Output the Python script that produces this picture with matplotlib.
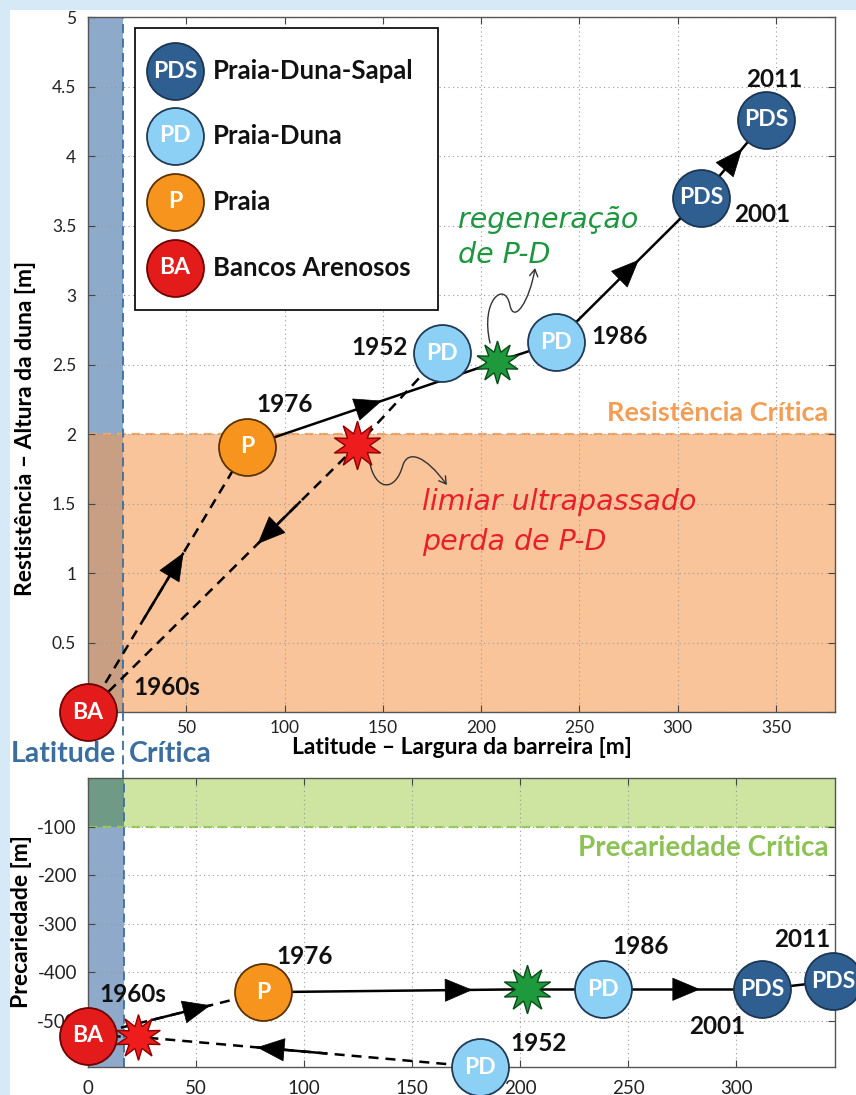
import matplotlib
matplotlib.use('Agg')
import matplotlib.pyplot as plt
import numpy as np
from matplotlib.patches import Rectangle, FancyArrowPatch
from matplotlib.path import Path
from matplotlib.lines import Line2D

plt.rcParams['font.family'] = ['Lato', 'DejaVu Sans']
plt.rcParams['axes.unicode_minus'] = False

# ---------------- data ----------------
states = ['BA', 'P', 'PD', 'PD', 'PDS', 'PDS']
years = ['1960s', '1976', '1952', '1986', '2001', '2011']
width_top = [0, 81, 180, 238, 312, 345]          # Latitude - largura da barreira [m]
resist = [0.0, 1.91, 2.58, 2.66, 3.70, 4.26]       # Resistencia - altura da duna [m]
width_bot = [0, 81, 181.5, 238.5, 312, 345]
precar = [-531, -441, -595, -435, -435, -418]      # Precariedade [m]
star_loss_top = (137, 1.92)
star_regen_top = (208, 2.52)
star_loss_bot = (23, -533)
star_regen_bot = (203, -435)
crit_resist = 2.0
crit_precar = -100
crit_lat_top = 18
crit_lat_bot = 16.5

legend_codes = ['PDS', 'PD', 'P', 'BA']
legend_names = ['Praia-Duna-Sapal', 'Praia-Duna', 'Praia', 'Bancos Arenosos']

xticks = [0, 50, 100, 150, 200, 250, 300, 350]
yticks_top = [0, 0.5, 1, 1.5, 2, 2.5, 3, 3.5, 4, 4.5, 5]
yticks_bot = [-500, -400, -300, -200, -100]

# ---------------- styles ----------------
face = {'PDS': '#2F5F90', 'PD': '#8DD0F5', 'P': '#F7941D', 'BA': '#E31B1B'}
edge = {'PDS': '#1B3552', 'PD': '#1E3A55', 'P': '#5A3200', 'BA': '#6E0000'}
year_off_top = [(57, 18), (27, 30), (-45, 4), (46, 4), (44, -12), (6, 29)]
year_off_bot = [(32, 30), (30, 26), (42, 17), (27, 31), (-32, -27), (-22, 30)]
hand = dict(family='DejaVu Sans', style='oblique')

fig = plt.figure(figsize=(8.56, 10.95), dpi=100, facecolor='#D5E9F7')
fig.add_artist(Rectangle((10 / 856, 0), 1, 1 - 10 / 1095, transform=fig.transFigure,
                         fc='white', ec='none', zorder=-10))

ax1 = fig.add_axes([0.1028, 0.34977, 0.8727, 0.6347])
ax2 = fig.add_axes([0.1028, 0.02557, 0.8727, 0.26393])


def style_axes(ax, lsize, xpad, ypad):
    ax.set_axisbelow(True)
    ax.grid(True, ls=(0, (1, 3)), color='#9a9a9a', lw=0.8)
    ax.tick_params(direction='in', top=True, right=True, length=5, width=0.8,
                   colors='#444', labelcolor='#222', labelsize=lsize)
    ax.tick_params(axis='x', pad=xpad)
    ax.tick_params(axis='y', pad=ypad)
    for s in ax.spines.values():
        s.set_color('#555')
        s.set_linewidth(1.0)


def draw_seg(ax, a, b, dashed, solid=None, arrow=None):
    a = np.asarray(a, float)
    b = np.asarray(b, float)
    ls = (0, (4, 2.8)) if dashed else '-'
    ax.plot([a[0], b[0]], [a[1], b[1]], color='k', lw=1.8, ls=ls, zorder=3,
            clip_on=False, solid_capstyle='butt')
    if solid is not None:
        p0 = a + (b - a) * solid[0]
        p1 = a + (b - a) * solid[1]
        ax.plot([p0[0], p1[0]], [p0[1], p1[1]], color='k', lw=1.8, zorder=3,
                clip_on=False, solid_capstyle='butt')
    if arrow is not None:
        tip = a + (b - a) * arrow
        tail = a + (b - a) * (arrow - 0.02)
        ax.annotate('', xy=tip, xytext=tail, zorder=4, annotation_clip=False,
                    arrowprops=dict(arrowstyle='-|>,head_length=0.95,head_width=0.4',
                                    mutation_scale=20, color='k', lw=0.5,
                                    shrinkA=0, shrinkB=0))


def draw_states(ax, xs, ys, offs):
    for i, code in enumerate(states):
        ax.plot(xs[i], ys[i], 'o', ms=41, mfc=face[code], mec=edge[code], mew=1.3,
                zorder=6, clip_on=False)
        ax.text(xs[i], ys[i], code, color='white', fontweight='bold', fontsize=16.5,
                ha='center', va='center', zorder=7, clip_on=False)
        ax.annotate(years[i], xy=(xs[i], ys[i]), xytext=offs[i], textcoords='offset points',
                    ha='center', va='center', fontsize=17.5, fontweight='bold',
                    color='#111', zorder=7, annotation_clip=False)


def draw_star(ax, pos, fc, ec, ms):
    ax.plot(pos[0], pos[1], marker=(10, 1, 0), ms=ms, mfc=fc, mec=ec, mew=1.0,
            zorder=5, clip_on=False)


# ================= upper panel =================
style_axes(ax1, 12.5, 5.5, 8.5)
ax1.set_xticks(xticks)
ax1.set_xticklabels(['' if v == 0 else f'{v:g}' for v in xticks])
ax1.set_yticks(yticks_top)
ax1.set_yticklabels(['' if v == 0 else f'{v:g}' for v in yticks_top])
ax1.set_xlim(0, 380)
ax1.set_ylim(0, 5)
ax1.axvspan(0, crit_lat_top, color='#8EAACB', lw=0, zorder=0.1)
ax1.axhspan(0, crit_resist, color='#FAC49B', lw=0, zorder=0.1)
ax1.add_patch(Rectangle((0, 0), crit_lat_top, crit_resist, color='#C89F82', lw=0, zorder=0.15))
ax1.axhline(crit_resist, color='#F2A869', ls=(0, (4, 2.5)), lw=1.6, zorder=0.3)
ax1.axvline(crit_lat_top, color='#3B6E9E', ls=(0, (5, 3)), lw=1.3, zorder=0.3)

P = list(zip(width_top, resist))
draw_seg(ax1, P[2], star_loss_top, True)
draw_seg(ax1, star_loss_top, P[0], True, solid=(0.21, 0.37), arrow=0.37)
draw_seg(ax1, P[0], P[1], True, solid=(0.35, 0.60), arrow=0.60)
draw_seg(ax1, P[1], star_regen_top, False, arrow=0.54)
draw_seg(ax1, star_regen_top, P[3], False)
draw_seg(ax1, P[3], P[4], False, arrow=0.57)
draw_seg(ax1, P[4], P[5], False, arrow=0.63)
draw_star(ax1, star_loss_top, '#EE1C1C', '#8B0000', 35)
draw_star(ax1, star_regen_top, '#1E9A3C', '#0B4A1A', 31)
draw_states(ax1, width_top, resist, year_off_top)

# curvy pointer arrows
red_path = Path([(143.4, 1.79), (146.0, 1.60), (156.2, 1.57), (160.2, 1.777),
                 (162.8, 1.885), (171.4, 1.849), (182.6, 1.633)],
                [Path.MOVETO, Path.CURVE4, Path.CURVE4, Path.CURVE4,
                 Path.CURVE4, Path.CURVE4, Path.CURVE4])
ax1.add_patch(FancyArrowPatch(path=red_path, arrowstyle='->,head_length=5,head_width=3',
                              color='#333', lw=1.0, zorder=4))
green_path = Path([(204.5, 2.655), (199.4, 2.964), (212.1, 3.108), (214.6, 2.928),
                   (216.7, 2.784), (224.8, 2.964), (227.4, 3.194)],
                  [Path.MOVETO, Path.CURVE4, Path.CURVE4, Path.CURVE4,
                   Path.CURVE4, Path.CURVE4, Path.CURVE4])
ax1.add_patch(FancyArrowPatch(path=green_path, arrowstyle='->,head_length=5,head_width=3',
                              color='#333', lw=1.0, zorder=4))

ax1.text(188.2, 3.54, 'regeneração', color='#1E9640', fontsize=20.5, ha='left', va='center', zorder=7, **hand)
ax1.text(188.2, 3.29, 'de P-D', color='#1E9640', fontsize=20.5, ha='left', va='center', zorder=7, **hand)
ax1.text(170, 1.51, 'limiar ultrapassado', color='#E8202A', fontsize=20.5, ha='left', va='center', zorder=7, **hand)
ax1.text(170, 1.22, 'perda de P-D', color='#E8202A', fontsize=20.5, ha='left', va='center', zorder=7, **hand)

ax1.text(0.9906, 2.15, 'Resistência Crítica', transform=ax1.get_yaxis_transform(),
         color='#F29E55', fontsize=19.5, fontweight='bold', ha='right', va='center', zorder=2)

ax1.set_xlabel('Latitude – Largura da barreira [m]', fontsize=16.5, fontweight='bold', va='center')
ax1.xaxis.set_label_coords(0.5, -0.0504)
ax1.set_ylabel('Restistência – Altura da duna [m]', fontsize=16.5, fontweight='bold', va='center')
ax1.yaxis.set_label_coords(-0.0843, 0.4086)

# legend (drawn by hand)
ax1.add_patch(Rectangle((0.063, 0.578), 0.4055, 0.406, transform=ax1.transAxes,
                        fc='white', ec='#111', lw=1.3, zorder=20))
leg_y = [0.922, 0.829, 0.734, 0.639]
for code, name, yy in zip(legend_codes, legend_names, leg_y):
    ax1.plot(0.1165, yy, 'o', ms=41, mfc=face[code], mec=edge[code], mew=1.3,
             transform=ax1.transAxes, zorder=21, clip_on=False)
    ax1.text(0.1165, yy, code, transform=ax1.transAxes, color='white', fontweight='bold',
             fontsize=16.5, ha='center', va='center', zorder=22)
    ax1.text(0.167, yy, name, transform=ax1.transAxes, color='#111', fontweight='bold',
             fontsize=18.5, ha='left', va='center', zorder=22)

# ================= lower panel =================
style_axes(ax2, 13.5, 9, 8)
ax2.set_xticks(xticks)
ax2.set_yticks(yticks_bot)
ax2.set_xlim(0, 345.8)
ax2.set_ylim(-595, 0)
ax2.axvspan(0, crit_lat_bot, color='#8FA9CB', lw=0, zorder=0.1)
ax2.axhspan(crit_precar, 0, color='#CDE5A0', lw=0, zorder=0.1)
ax2.add_patch(Rectangle((0, crit_precar), crit_lat_bot, -crit_precar, color='#6F9A86', lw=0, zorder=0.15))
ax2.axhline(crit_precar, color='#9CCB5E', ls=(0, (4, 2.5)), lw=1.6, zorder=0.3)
ax2.axvline(crit_lat_bot, color='#3B6E9E', ls=(0, (5, 3)), lw=1.3, zorder=0.3)

Q = list(zip(width_bot, precar))
draw_seg(ax2, Q[2], star_loss_bot, True, solid=(0.447, 0.652), arrow=0.652)
draw_seg(ax2, star_loss_bot, Q[0], True)
draw_seg(ax2, Q[0], Q[1], True, solid=(0.36, 0.70), arrow=0.70)
draw_seg(ax2, Q[1], star_regen_bot, False, arrow=0.795)
draw_seg(ax2, star_regen_bot, Q[3], False)
draw_seg(ax2, Q[3], Q[4], False, arrow=0.61)
draw_seg(ax2, Q[4], Q[5], False)
draw_star(ax2, star_loss_bot, '#EE1C1C', '#8B0000', 33)
draw_star(ax2, star_regen_bot, '#1E9A3C', '#0B4A1A', 35)
draw_states(ax2, width_bot, precar, year_off_bot)

ax2.text(0.9906, -145, 'Precariedade Crítica', transform=ax2.get_yaxis_transform(),
         color='#8DC255', fontsize=20, fontweight='bold', ha='right', va='center', zorder=2)
ax2.set_ylabel('Precariedade [m]', fontsize=16.5, fontweight='bold', va='center')
ax2.yaxis.set_label_coords(-0.0884, 0.502)

# dashed critical-latitude line across the gap + label
fig.canvas.draw()
xf = fig.transFigure.inverted().transform(ax1.transData.transform((crit_lat_top, 0)))[0]
fig.add_artist(Line2D([xf, xf], [0.34977, 0.2895], transform=fig.transFigure,
                      color='#3B6E9E', ls=(0, (5, 3)), lw=1.3))
fig.text(11 / 856, 1 - 754 / 1095, 'Latitude', color='#3B6E9E', fontsize=20.5,
         fontweight='bold', ha='left', va='center')
fig.text(129 / 856, 1 - 754 / 1095, 'Crítica', color='#3B6E9E', fontsize=20.5,
         fontweight='bold', ha='left', va='center')

fig.savefig('out.png', dpi=100, facecolor=fig.get_facecolor())
